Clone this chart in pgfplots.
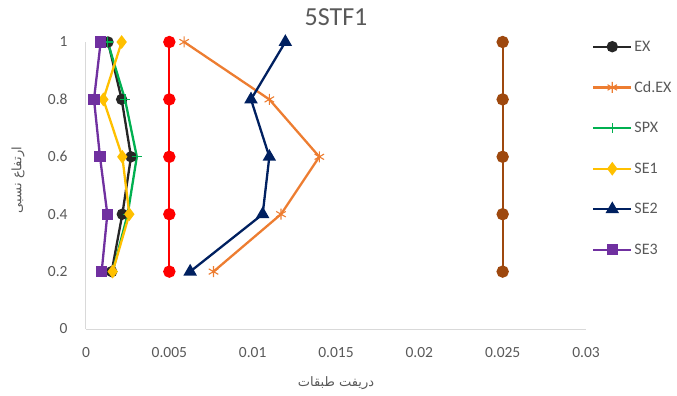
\documentclass[border=0pt]{standalone}
\usepackage{pgfplots}
\pgfplotsset{compat=1.18}
\usepackage{fontspec}
\setmainfont{Carlito}
\newfontfamily\arabicfont[Script=Arabic]{DejaVu Sans}
\TeXXeTstate=1

\definecolor{txtgray}{HTML}{595959}
\definecolor{axgray}{HTML}{D9D9D9}
\definecolor{cEX}{HTML}{262626}
\definecolor{cCD}{HTML}{ED7D31}
\definecolor{cSPX}{HTML}{00B050}
\definecolor{cSE1}{HTML}{FFC000}
\definecolor{cSE2}{HTML}{002060}
\definecolor{cSE3}{HTML}{7030A0}
\definecolor{cRed}{HTML}{FF0000}
\definecolor{cBrown}{HTML}{9E480E}

\begin{document}
\begin{tikzpicture}
\useasboundingbox (-86bp,-67bp) rectangle (591bp,329bp);
\begin{axis}[
  at={(0,0)}, anchor=south west,
  scale only axis, width=500bp, height=287bp,
  xmin=0, xmax=0.03, ymin=0, ymax=1,
  xtick={0,0.005,0.01,0.015,0.02,0.025,0.03},
  ytick={0,0.2,0.4,0.6,0.8,1},
  scaled x ticks=false,
  xticklabel style={/pgf/number format/fixed,/pgf/number format/precision=3},
  yticklabel style={/pgf/number format/fixed,/pgf/number format/precision=1},
  /pgf/number format/assume math mode=true,
  tick label style={font=\fontsize{15.5bp}{17bp}\selectfont, text=txtgray},
  major tick length=0pt,
  axis x line*=bottom, axis y line*=left,
  axis line style={axgray, line width=1bp, -},
  xticklabel shift=14bp, yticklabel shift=14bp,
  line width=2.3bp,
  title={5STF1},
  title style={font=\fontsize{26bp}{28bp}\selectfont, text=txtgray, at={(axis description cs:0.5,1.066)}, anchor=center},
  xlabel={\arabicfont\beginR دریفت طبقات\endR},
  xlabel style={font=\fontsize{13bp}{15bp}\selectfont, text=txtgray, at={(axis description cs:0.5,-0.188)}, anchor=center},
  ylabel={\arabicfont\beginR ارتفاع نسبی\endR},
  ylabel style={font=\fontsize{13bp}{15bp}\selectfont, text=txtgray, at={(axis description cs:-0.136,0.519)}, anchor=center, rotate=0},
  legend cell align=left,
  legend style={draw=none, fill=none, at={(axis description cs:1.004,1.022)}, anchor=north west,
    font=\fontsize{16bp}{18bp}\selectfont, text=txtgray, row sep=24.6bp,
    /tikz/every even column/.append style={column sep=0bp}},
  legend image code/.code={
    \draw[#1, mark repeat=2, mark phase=2] plot coordinates {(0bp,0bp) (19bp,0bp) (38bp,0bp)};
  },
]
% constant reference lines
\addplot[cRed, mark=*, mark size=5bp, forget plot] coordinates {(0.005,0.2) (0.005,0.4) (0.005,0.6) (0.005,0.8) (0.005,1)};
\addplot[cBrown, mark=*, mark size=5bp, forget plot] coordinates {(0.025,0.2) (0.025,0.4) (0.025,0.6) (0.025,0.8) (0.025,1)};

\addplot[cEX, mark=*, mark size=4.5bp] coordinates {(0.00154,0.2) (0.00218,0.4) (0.0027,0.6) (0.00214,0.8) (0.00132,1)};
\addlegendentry{EX}
\addplot[cCD, mark=asterisk, mark size=5.5bp, mark options={line width=1.1bp}] coordinates {(0.00765,0.2) (0.0117,0.4) (0.0140,0.6) (0.0110,0.8) (0.00589,1)};
\addlegendentry{Cd.EX}
\addplot[cSPX, mark=+, mark size=5bp, mark options={line width=1.1bp}] coordinates {(0.0016,0.2) (0.0025,0.4) (0.00305,0.6) (0.00234,0.8) (0.0013,1)};
\addlegendentry{SPX}
\addplot[cSE1, mark=diamond*, mark size=5bp] coordinates {(0.0016,0.2) (0.0026,0.4) (0.00218,0.6) (0.00104,0.8) (0.00214,1)};
\addlegendentry{SE1}
\addplot[cSE2, mark=triangle*, mark size=5.5bp] coordinates {(0.00625,0.2) (0.0106,0.4) (0.0110,0.6) (0.0099,0.8) (0.01196,1)};
\addlegendentry{SE2}
\addplot[cSE3, mark=square*, mark size=4.5bp] coordinates {(0.00094,0.2) (0.00128,0.4) (0.00084,0.6) (0.00048,0.8) (0.00088,1)};
\addlegendentry{SE3}
\end{axis}
\end{tikzpicture}
\end{document}
